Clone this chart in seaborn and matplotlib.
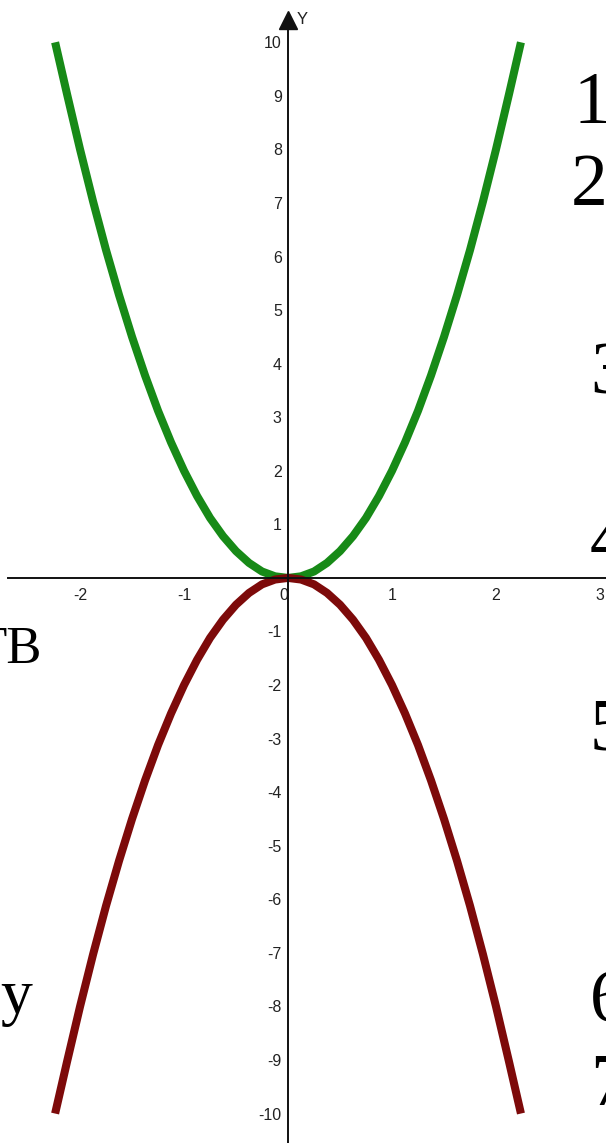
import numpy as np
import pandas as pd
import matplotlib
matplotlib.use('Agg')
import matplotlib.pyplot as plt
import seaborn as sns

# values
x_vals = [-2.24, -2.125, -2.0, -1.875, -1.75, -1.625, -1.5, -1.375, -1.25, -1.125,
          -1.0, -0.875, -0.75, -0.625, -0.5, -0.375, -0.25, -0.125, 0.0,
          0.125, 0.25, 0.375, 0.5, 0.625, 0.75, 0.875, 1.0,
          1.125, 1.25, 1.375, 1.5, 1.625, 1.75, 1.875, 2.0, 2.125, 2.24]
up_vals = [10.0, 9.03, 8.0, 7.03, 6.12, 5.28, 4.5, 3.78, 3.12, 2.53,
           2.0, 1.53, 1.12, 0.78, 0.5, 0.28, 0.12, 0.03, 0.0,
           0.03, 0.12, 0.28, 0.5, 0.78, 1.12, 1.53, 2.0,
           2.53, 3.12, 3.78, 4.5, 5.28, 6.12, 7.03, 8.0, 9.03, 10.0]
down_vals = [-10.0, -9.03, -8.0, -7.03, -6.12, -5.28, -4.5, -3.78, -3.12, -2.53,
             -2.0, -1.53, -1.12, -0.78, -0.5, -0.28, -0.12, -0.03, 0.0,
             -0.03, -0.12, -0.28, -0.5, -0.78, -1.12, -1.53, -2.0,
             -2.53, -3.12, -3.78, -4.5, -5.28, -6.12, -7.03, -8.0, -9.03, -10.0]
x_ticks = [-2, -1, 0, 1, 2, 3]
y_ticks = [-10, -9, -8, -7, -6, -5, -4, -3, -2, -1, 1, 2, 3, 4, 5, 6, 7, 8, 9, 10]
side_nums = ['1', '2', '3', '4', '5', '6', '7']

sns.set_style('white')
plt.rcParams['font.family'] = ['Liberation Sans', 'DejaVu Sans']

df = pd.concat([
    pd.DataFrame({'x': x_vals, 'y': up_vals, 'curve': 'up'}),
    pd.DataFrame({'x': x_vals, 'y': down_vals, 'curve': 'down'}),
])

fig = plt.figure(figsize=(6.06, 11.43), dpi=100)
ax = fig.add_axes([0, 0, 1, 1])

sns.lineplot(data=df, x='x', y='y', hue='curve', sort=False,
             palette={'up': '#178a17', 'down': '#7d0a0a'},
             linewidth=5.8, legend=False, ax=ax, solid_capstyle='butt',
             solid_joinstyle='round')

ax.set_xlim(-2.77, 3.058)
ax.set_ylim(-10.55, 10.79)
ax.set_xlabel('')
ax.set_ylabel('')

# axes through the origin
for s in ['top', 'right']:
    ax.spines[s].set_visible(False)
ax.spines['left'].set_position(('data', 0))
ax.spines['bottom'].set_position(('data', 0))
ax.spines['left'].set_bounds(-10.6, 10.5)
ax.spines['bottom'].set_bounds(-2.69, 3.1)
for s in ['left', 'bottom']:
    ax.spines[s].set_linewidth(1.4)
    ax.spines[s].set_color('#111111')

ax.set_xticks(x_ticks)
ax.set_xticklabels([str(t) for t in x_ticks])
ax.set_yticks(y_ticks)
ax.set_yticklabels([str(t) for t in y_ticks])
ax.tick_params(axis='both', direction='inout', length=7, width=1.2,
               color='#111111', labelsize=11.5, labelcolor='#222222')
ax.tick_params(axis='x', pad=4)
ax.tick_params(axis='y', pad=1)
for lab in ax.get_xticklabels():
    if lab.get_text() == '0':
        lab.set_horizontalalignment('right')

# arrow and label on the y axis
ax.plot([0], [10.42], marker='^', markersize=13, color='#111111', clip_on=False)
ax.text(0.08, 10.42, 'Y', fontsize=12, color='#222222', va='center', ha='left')

# clipped slide text around the chart
side_y = [123, 205, 393, 563, 750, 1022, 1105]
side_x = [573, 571, 590, 590, 590, 590, 590]
for lab, yy, xx in zip(side_nums, side_y, side_x):
    fig.text(xx / 606, 1 - yy / 1143, lab, fontsize=53, family='Liberation Serif',
             va='baseline', ha='left', color='black')
fig.text(42 / 606, 1 - 663 / 1143, 'ТВ', fontsize=38, family='Liberation Serif',
         va='baseline', ha='right', color='black')
fig.text(32 / 606, 1 - 1013 / 1143, 'у', fontsize=46, family='Liberation Serif',
         va='baseline', ha='right', color='black')

fig.savefig('out.png', dpi=100)
